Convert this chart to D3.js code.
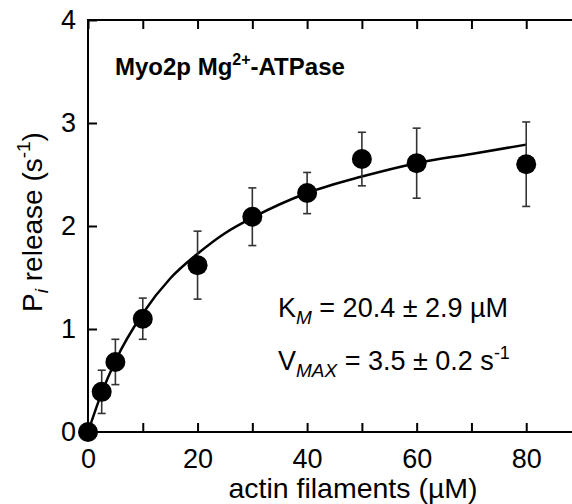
<!DOCTYPE html>
<html>
<head>
<meta charset="utf-8">
<script src="https://cdn.jsdelivr.net/npm/d3@7"></script>
<style>
  body { margin: 0; background: #fff; }
  text { font-family: "Liberation Sans", Arial, Helvetica, sans-serif; fill: #000; }
</style>
</head>
<body>
<div id="chart"></div>
<script>
// measured points (actin uM vs Pi release s^-1)
const actin = [0, 2.5, 5, 10, 20, 30, 40, 50, 60, 80];
const rate = [0, 0.39, 0.68, 1.10, 1.62, 2.09, 2.32, 2.65, 2.61, 2.60];
const rateErr = [0, 0.21, 0.22, 0.20, 0.33, 0.28, 0.20, 0.26, 0.34, 0.41];

// hyperbolic fit line
const fitX = [0, 2.5, 5, 10, 15, 20, 25, 30, 40, 50, 60, 70, 80];
const fitY = [0, 0.38, 0.69, 1.15, 1.49, 1.73, 1.93, 2.08, 2.32, 2.48, 2.61, 2.70, 2.79];

const xTicks = [0, 10, 20, 30, 40, 50, 60, 70, 80, 90];
const yTicks = [0, 1, 2, 3, 4];

window.onload = function () {
  const width = 572;
  const height = 504;
  const left = 88, right = 581, top = 20, bottom = 432;

  const svg = d3.select("#chart")
    .append("svg")
    .attr("width", width)
    .attr("height", height);

  const xScale = d3.scaleLinear().domain([0, 90]).range([left, right]);
  const yScale = d3.scaleLinear().domain([0, 4]).range([bottom, top]);

  // frame
  svg.append("rect")
    .attr("x", left).attr("y", top)
    .attr("width", right - left).attr("height", bottom - top)
    .attr("fill", "none").attr("stroke", "#000").attr("stroke-width", 2);

  const xAxis = svg.append("g")
    .attr("transform", `translate(0, ${bottom})`)
    .call(d3.axisBottom(xScale).tickValues(xTicks).tickSize(-9).tickPadding(17)
      .tickFormat(d => (d % 20 === 0 && d <= 80) ? d : ""));
  const topAxis = svg.append("g")
    .attr("transform", `translate(0, ${top})`)
    .call(d3.axisTop(xScale).tickValues(xTicks).tickSize(-9).tickFormat(""));
  const yAxis = svg.append("g")
    .attr("transform", `translate(${left}, 0)`)
    .call(d3.axisLeft(yScale).tickValues(yTicks).tickSize(-9).tickPadding(12)
      .tickFormat(d3.format("d")));
  const rightAxis = svg.append("g")
    .attr("transform", `translate(${right}, 0)`)
    .call(d3.axisRight(yScale).tickValues(yTicks).tickSize(-9).tickFormat(""));

  [xAxis, topAxis, yAxis, rightAxis].forEach(g => {
    g.select(".domain").remove();
    g.selectAll("line").attr("stroke", "#000").attr("stroke-width", 2);
    g.selectAll("text").style("font-size", "27px").attr("fill", "#000");
  });

  // fit curve
  const line = d3.line()
    .x((d, i) => xScale(fitX[i]))
    .y(d => yScale(d))
    .curve(d3.curveMonotoneX);
  svg.append("path")
    .datum(fitY)
    .attr("d", line)
    .attr("fill", "none")
    .attr("stroke", "#000")
    .attr("stroke-width", 2.5);

  // error bars
  const errG = svg.append("g").attr("stroke", "#333").attr("stroke-width", 1.6);
  actin.forEach((x, i) => {
    if (rateErr[i] === 0) return;
    const cx = xScale(x);
    const y1 = yScale(rate[i] + rateErr[i]);
    const y2 = yScale(rate[i] - rateErr[i]);
    errG.append("line").attr("x1", cx).attr("x2", cx).attr("y1", y1).attr("y2", y2);
    errG.append("line").attr("x1", cx - 4).attr("x2", cx + 4).attr("y1", y1).attr("y2", y1);
    errG.append("line").attr("x1", cx - 4).attr("x2", cx + 4).attr("y1", y2).attr("y2", y2);
  });

  // points
  svg.append("g").selectAll("circle")
    .data(actin)
    .enter()
    .append("circle")
    .attr("cx", d => xScale(d))
    .attr("cy", (d, i) => yScale(rate[i]))
    .attr("r", 10)
    .attr("fill", "#000");

  // title inside plot
  const title = svg.append("text")
    .attr("x", 115).attr("y", 75)
    .style("font-size", "24px").style("font-weight", "bold");
  title.append("tspan").text("Myo2p Mg");
  title.append("tspan").attr("dy", -10).style("font-size", "16px").text("2+");
  title.append("tspan").attr("dy", 10).text("-ATPase");

  // fit parameters
  const km = svg.append("text").attr("x", 278).attr("y", 317).style("font-size", "27px");
  km.append("tspan").text("K");
  km.append("tspan").attr("dy", 7).style("font-size", "19px").style("font-style", "italic").text("M");
  km.append("tspan").attr("dy", -7).text(" = 20.4 \u00b1 2.9 \u00b5M");

  const vmax = svg.append("text").attr("x", 278).attr("y", 370).style("font-size", "27px");
  vmax.append("tspan").text("V");
  vmax.append("tspan").attr("dy", 7).style("font-size", "19px").style("font-style", "italic").text("MAX");
  vmax.append("tspan").attr("dy", -7).text(" = 3.5 \u00b1 0.2 s");
  vmax.append("tspan").attr("dy", -11).style("font-size", "18px").text("-1");

  // axis titles
  svg.append("text")
    .attr("x", 353).attr("y", 498)
    .attr("text-anchor", "middle")
    .style("font-size", "28.5px")
    .text("actin filaments (\u00b5M)");

  const yt = svg.append("text")
    .attr("transform", "translate(42, 222) rotate(-90)")
    .attr("text-anchor", "middle")
    .style("font-size", "28px");
  yt.append("tspan").text("P");
  yt.append("tspan").attr("dy", 6).style("font-size", "19px").style("font-style", "italic").text("i");
  yt.append("tspan").attr("dy", -6).text(" release (s");
  yt.append("tspan").attr("dy", -12).style("font-size", "19px").text("-1");
  yt.append("tspan").attr("dy", 12).text(")");
};
</script>
</body>
</html>
